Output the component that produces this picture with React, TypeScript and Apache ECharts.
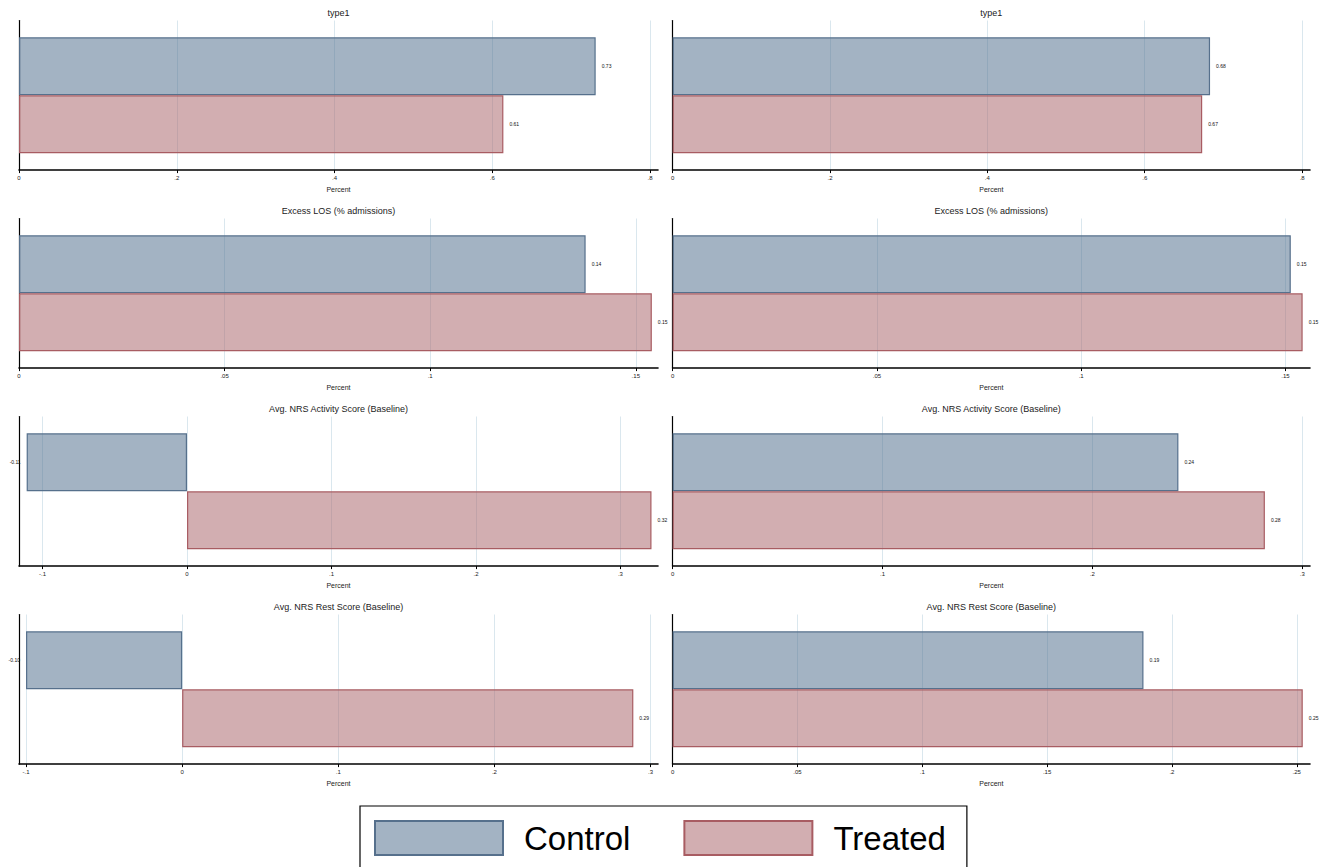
import React, { useEffect, useRef } from 'react';
import * as echarts from 'echarts';

const FONT = 'Arial, "Liberation Sans", Helvetica, sans-serif';

const seriesNames = ['Control', 'Treated'];
const panelTitles = [
  'type1',
  'type1',
  'Excess LOS (% admissions)',
  'Excess LOS (% admissions)',
  'Avg. NRS Activity Score (Baseline)',
  'Avg. NRS Activity Score (Baseline)',
  'Avg. NRS Rest Score (Baseline)',
  'Avg. NRS Rest Score (Baseline)',
];
const controlValues = [0.731, 0.683, 0.1378, 0.1513, -0.111, 0.241, -0.1, 0.1886];
const treatedValues = [0.614, 0.673, 0.1539, 0.1542, 0.3215, 0.2822, 0.289, 0.2524];
const axisMins = [0, 0, 0, 0, -0.1163, 0, -0.1045, 0];
const axisMaxs = [0.81, 0.81, 0.1554, 0.156, 0.326, 0.3037, 0.3048, 0.2553];
const tickValues = [
  [0, 0.2, 0.4, 0.6, 0.8],
  [0, 0.2, 0.4, 0.6, 0.8],
  [0, 0.05, 0.1, 0.15],
  [0, 0.05, 0.1, 0.15],
  [-0.1, 0, 0.1, 0.2, 0.3],
  [0, 0.1, 0.2, 0.3],
  [-0.1, 0, 0.1, 0.2, 0.3],
  [0, 0.05, 0.1, 0.15, 0.2, 0.25],
];
const axisName = 'Percent';

const fillColors = ['rgba(88,117,146,0.55)', 'rgba(173,108,113,0.55)'];
const borderColors = ['#56708c', '#a85c62'];

const fmtTick = (v: number) => {
  if (Math.abs(v) < 1e-9) return '0';
  const s = String(Math.round(v * 1000) / 1000);
  return s.replace(/^(-?)0\./, '$1.');
};

// panel boxes: left column plot spans x 19..658, right column 672.6..1310
const LEFT_DIV_W = 672;
const RIGHT_DIV_X = 665;
const RIGHT_DIV_W = 666;

function buildPanelOption(i: number) {
  const col = i % 2;
  const gridLeft = col ? 7.6 : 19;
  const gridRight = col ? 21 : LEFT_DIV_W - 658;
  const divW = col ? RIGHT_DIV_W : LEFT_DIV_W;
  const centerX = gridLeft + (divW - gridLeft - gridRight) / 2;
  const vals = [controlValues[i], treatedValues[i]];
  return {
    animation: false,
    title: {
      text: panelTitles[i],
      left: centerX,
      top: 8,
      textAlign: 'center',
      padding: 0,
      textStyle: { fontSize: 9, fontWeight: 'normal', color: '#222', fontFamily: FONT },
    },
    grid: { left: gridLeft, right: gridRight, top: 20.5, bottom: 25, containLabel: false },
    xAxis: {
      type: 'value',
      min: axisMins[i],
      max: axisMaxs[i],
      name: axisName,
      nameLocation: 'middle',
      nameGap: 11,
      nameTextStyle: { fontSize: 7, color: '#222', fontFamily: FONT },
      axisLine: { show: true, onZero: false, lineStyle: { color: '#000', width: 1.6 } },
      axisTick: { show: true, length: 3, lineStyle: { color: '#000', width: 1 }, customValues: tickValues[i] },
      axisLabel: {
        fontSize: 6,
        color: '#222',
        fontFamily: FONT,
        margin: 5,
        customValues: tickValues[i],
        formatter: (v: number) => fmtTick(v),
      },
      splitLine: { show: true, lineStyle: { color: '#dae7ee', width: 1 } },
    },
    yAxis: {
      type: 'category',
      data: [''],
      axisLine: { show: true, onZero: false, lineStyle: { color: '#000', width: 1.2 } },
      axisTick: { show: false },
      axisLabel: { show: false },
      splitLine: { show: false },
    },
    series: seriesNames.map((name, s) => ({
      type: 'bar',
      name,
      barWidth: 58,
      barGap: '0%',
      itemStyle: { color: fillColors[s], borderColor: borderColors[s], borderWidth: 1.2 },
      label: {
        show: true,
        distance: 6,
        fontSize: 5,
        color: '#111',
        fontFamily: FONT,
        formatter: (p: any) => Number(p.value).toFixed(2),
      },
      data: [{ value: vals[s], label: { position: vals[s] < 0 ? 'left' : 'right' } }],
    })),
  };
}

function Panel({ index }: { index: number }) {
  const ref = useRef<HTMLDivElement>(null);
  useEffect(() => {
    const chart = echarts.init(ref.current as HTMLDivElement, null, { renderer: 'svg' });
    chart.setOption(buildPanelOption(index) as any);
    return () => chart.dispose();
  }, [index]);
  const col = index % 2;
  const row = Math.floor(index / 2);
  return (
    <div
      ref={ref}
      style={{
        position: 'absolute',
        left: col ? RIGHT_DIV_X : 0,
        top: row * 198,
        width: col ? RIGHT_DIV_W : LEFT_DIV_W,
        height: 198,
        zIndex: col ? 1 : 2,
        pointerEvents: 'none',
      }}
    />
  );
}

function LegendBox() {
  const ref = useRef<HTMLDivElement>(null);
  useEffect(() => {
    const chart = echarts.init(ref.current as HTMLDivElement, null, { renderer: 'svg' });
    chart.setOption({
      animation: false,
      legend: {
        left: 360,
        top: 16,
        orient: 'horizontal',
        padding: [14, 21, 12, 14],
        itemWidth: 128,
        itemHeight: 34,
        itemGap: 53,
        borderColor: '#000',
        borderWidth: 1.2,
        selectedMode: false,
        icon: 'rect',
        data: seriesNames,
        textStyle: { fontSize: 33, color: '#000', fontFamily: FONT, padding: [0, 0, 0, 16], lineHeight: 34 },
      },
      grid: { left: 0, top: 0, width: 1, height: 1 },
      xAxis: { type: 'value', show: false },
      yAxis: { type: 'category', show: false, data: [''] },
      series: seriesNames.map((name, s) => ({
        type: 'bar',
        name,
        itemStyle: { color: fillColors[s], borderColor: borderColors[s], borderWidth: 1.2 },
        data: [],
      })),
    } as any);
    return () => chart.dispose();
  }, []);
  return <div ref={ref} style={{ position: 'absolute', left: 0, top: 790, width: 1331, height: 77 }} />;
}

export default function App() {
  return (
    <div
      style={{
        position: 'absolute',
        left: 0,
        top: 0,
        width: 1331,
        height: 867,
        background: '#fff',
        overflow: 'hidden',
      }}
    >
      {panelTitles.map((_, i) => (
        <Panel key={i} index={i} />
      ))}
      <LegendBox />
    </div>
  );
}
